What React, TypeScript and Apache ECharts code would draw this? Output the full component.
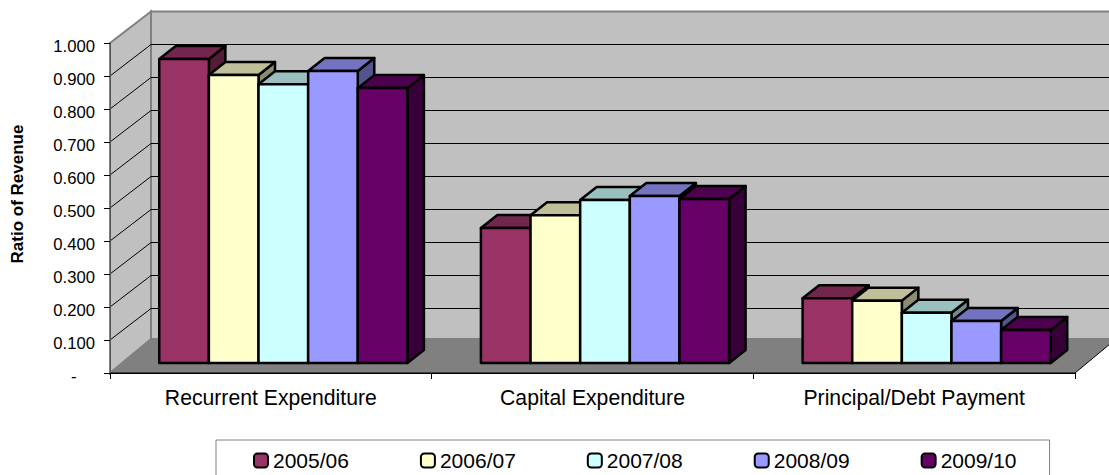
import React, { useEffect, useRef } from "react";
import * as echarts from "echarts";

const categories = ["Recurrent Expenditure", "Capital Expenditure", "Principal/Debt Payment"];
const years = ["2005/06", "2006/07", "2007/08", "2008/09", "2009/10"];
const v0506 = [0.921, 0.409, 0.196];
const v0607 = [0.873, 0.448, 0.189];
const v0708 = [0.845, 0.494, 0.152];
const v0809 = [0.885, 0.506, 0.127];
const v0910 = [0.833, 0.497, 0.1];
const seriesValues = [v0506, v0607, v0708, v0809, v0910];
const colors = ["#993366", "#FFFFCC", "#CCFFFF", "#9999FF", "#660066"];
const yTicks = [0, 0.1, 0.2, 0.3, 0.4, 0.5, 0.6, 0.7, 0.8, 0.9, 1];

const WALL_DX = 41;
const WALL_DY = -31.5;
const BAR_OFF_X = 12.5;
const BAR_OFF_Y = -10;
const BAR_DX = 16.5;
const BAR_DY = -13;
const BAR_RATIO = 0.1543;

function shade(hex: string, f: number) {
  const n = parseInt(hex.slice(1), 16);
  const c = [(n >> 16) & 255, (n >> 8) & 255, n & 255].map((x) => Math.round(x * f));
  return `rgb(${c[0]},${c[1]},${c[2]})`;
}

function renderBackdrop(_: any, api: any) {
  const [x0, y0] = api.coord([0, 0]);
  const band = api.size([1, 0])[0];
  const left = x0 - band / 2;
  const right = left + band * categories.length;
  const top = api.coord([0, 1])[1];
  const floorBack = y0 - 34;
  const wallStyle = { fill: "#C0C0C0", stroke: "#808080", lineWidth: 2 };
  const children: any[] = [
    {
      type: "polygon",
      shape: { points: [[left, top], [left + WALL_DX, top + WALL_DY], [left + WALL_DX, floorBack], [left, y0]] },
      style: wallStyle,
    },
    {
      type: "polygon",
      shape: { points: [[left + WALL_DX, top + WALL_DY], [right + WALL_DX, top + WALL_DY], [right + WALL_DX, floorBack], [left + WALL_DX, floorBack]] },
      style: wallStyle,
    },
  ];
  yTicks.forEach((t) => {
    if (t === 0 || t === 1) return;
    const y = api.coord([0, t])[1];
    children.push({
      type: "polyline",
      shape: { points: [[left, y], [left + WALL_DX, y + WALL_DY], [right + WALL_DX, y + WALL_DY]] },
      style: { fill: "none", stroke: "#000", lineWidth: 1 },
    });
  });
  children.push({
    type: "polygon",
    shape: { points: [[left, y0], [left + WALL_DX, floorBack], [right + WALL_DX, floorBack], [right, y0]] },
    style: { fill: "#808080", stroke: "none" },
  });
  children.push({
    type: "polyline",
    shape: { points: [[left, y0], [right, y0], [right + WALL_DX, floorBack]] },
    style: { fill: "none", stroke: "#000", lineWidth: 1 },
  });
  return { type: "group", children };
}

function makeBarRenderer(s: number) {
  return (_: any, api: any) => {
    const cat = api.value(0);
    const val = api.value(1);
    const base = api.coord([cat, 0]);
    const band = api.size([1, 0])[0];
    const w = band * BAR_RATIO;
    const x = base[0] + BAR_OFF_X + (s - years.length / 2) * w;
    const yb = base[1] + BAR_OFF_Y;
    const yt = api.coord([cat, val])[1] + BAR_OFF_Y;
    const line = { stroke: "#000", lineWidth: 2.5, lineJoin: "round" };
    const c = colors[s];
    return {
      type: "group",
      children: [
        {
          type: "polygon",
          shape: { points: [[x + w, yb], [x + w + BAR_DX, yb + BAR_DY], [x + w + BAR_DX, yt + BAR_DY], [x + w, yt]] },
          style: { fill: shade(c, 0.55), ...line },
        },
        {
          type: "polygon",
          shape: { points: [[x, yt], [x + BAR_DX, yt + BAR_DY], [x + w + BAR_DX, yt + BAR_DY], [x + w, yt]] },
          style: { fill: shade(c, 0.75), ...line },
        },
        {
          type: "rect",
          shape: { x, y: yt, width: w, height: yb - yt },
          style: { fill: c, ...line },
        },
      ],
    };
  };
}

export default function App() {
  const ref = useRef<HTMLDivElement>(null);
  useEffect(() => {
    document.body.style.margin = "0";
    const chart = echarts.init(ref.current!, null, { renderer: "svg" });
    const font = "'Liberation Sans', Arial, sans-serif";
    chart.setOption({
      animation: false,
      backgroundColor: "#fff",
      textStyle: { fontFamily: font },
      grid: { left: 110, right: 34, top: 43, bottom: 102, outerBoundsMode: "none", containLabel: false },
      legend: {
        data: years,
        selectedMode: false,
        orient: "horizontal",
        left: 216,
        top: 440,
        padding: [10, 33, 6, 37],
        itemGap: 71,
        itemWidth: 14,
        itemHeight: 14,
        icon: "roundRect",
        borderColor: "#808080",
        borderWidth: 1,
        backgroundColor: "#fff",
        textStyle: { fontSize: 21, color: "#000", fontFamily: font, padding: [3, 0, 0, 0] },
        itemStyle: { borderColor: "#000", borderWidth: 2 },
      },
      xAxis: {
        type: "category",
        data: categories,
        z: 5,
        axisLine: { lineStyle: { color: "#000", width: 1 } },
        axisTick: { show: true, length: 6, lineStyle: { color: "#000" } },
        axisLabel: { fontSize: 21.2, color: "#000", margin: 14, fontFamily: font },
        splitLine: { show: false },
      },
      yAxis: {
        type: "value",
        min: 0,
        max: 1,
        interval: 0.1,
        z: 5,
        name: "Ratio of Revenue",
        nameLocation: "middle",
        nameGap: 84,
        nameTextStyle: { fontSize: 17, fontWeight: "bold", color: "#000", fontFamily: font, padding: [0, 0, 0, 28] },
        axisLine: { show: true, lineStyle: { color: "#555", width: 1 } },
        axisTick: { show: true, length: 6, lineStyle: { color: "#000" } },
        axisLabel: {
          fontSize: 16.7,
          color: "#000",
          margin: 15,
          fontFamily: font,
          verticalAlign: "top",
          lineHeight: 7,
          formatter: (v: number) => (v === 0 ? "-\u00a0\u00a0\u00a0\u00a0" : v.toFixed(3)),
        },
        splitLine: { show: false },
      },
      series: [
        {
          type: "custom",
          name: "backdrop",
          silent: true,
          z: 1,
          renderItem: renderBackdrop,
          data: [[0, 0]],
          encode: { x: 0, y: 1 },
        },
        ...years.map((y, s) => ({
          type: "custom",
          name: y,
          z: 2 + s,
          itemStyle: { color: colors[s], borderColor: "#000", borderWidth: 2 },
          renderItem: makeBarRenderer(s),
          data: seriesValues[s].map((v, i) => [i, v]),
          encode: { x: 0, y: 1 },
        })),
      ],
    });
    return () => chart.dispose();
  }, []);
  return <div ref={ref} style={{ width: 1109, height: 475 }} />;
}
